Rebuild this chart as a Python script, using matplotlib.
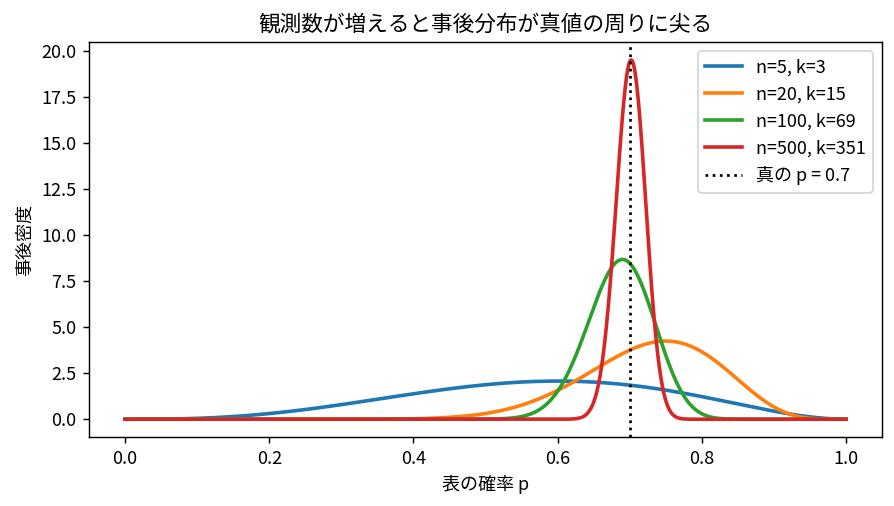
import math
import numpy as np
import matplotlib
matplotlib.use("Agg")
import matplotlib.pyplot as plt

plt.rcParams['font.family'] = ['Noto Sans CJK JP', 'DejaVu Sans']

# observations (n trials, k heads), uniform prior -> Beta(k+1, n-k+1)
n_obs = [5, 20, 100, 500]
k_obs = [3, 15, 69, 351]
true_p = 0.7

title = "観測数が増えると事後分布が真値の周りに尖る"
xlabel = "表の確率 p"
ylabel = "事後密度"


def beta_pdf(x, a, b):
    logc = math.lgamma(a + b) - math.lgamma(a) - math.lgamma(b)
    with np.errstate(divide='ignore'):
        out = np.exp(logc + (a - 1) * np.log(x) + (b - 1) * np.log1p(-x))
    return np.nan_to_num(out)


p = np.linspace(0, 1, 1000)

dpi = 130
fig, ax = plt.subplots(figsize=(894 / dpi, 506 / dpi), dpi=dpi)
fig.subplots_adjust(left=0.0996, right=0.9866, top=0.917, bottom=0.136)

for n, k in zip(n_obs, k_obs):
    ax.plot(p, beta_pdf(p, k + 1, n - k + 1), lw=2, label=f"n={n}, k={k}")

ax.axvline(true_p, color='black', ls=':', lw=1.5, label=f"真の p = {true_p}")

ax.set_title(title, fontsize=12)
ax.set_xlabel(xlabel)
ax.set_ylabel(ylabel)
ax.legend(loc='upper right')

fig.savefig("out.png", dpi=dpi)
